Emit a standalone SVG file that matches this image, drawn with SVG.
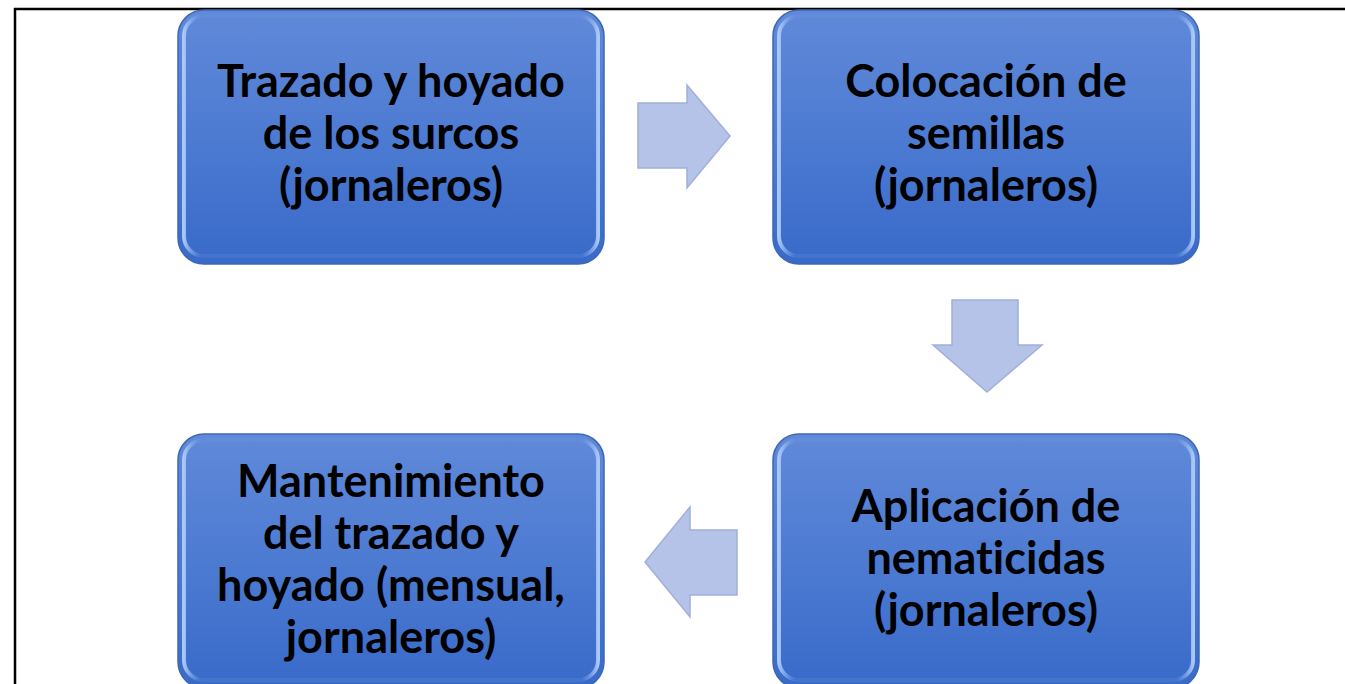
<svg xmlns="http://www.w3.org/2000/svg" width="1345" height="684" viewBox="0 0 1345 684">
<style>
.lbl{font-family:"Lato","Liberation Sans",sans-serif;font-weight:bold;font-size:45px;fill:#000;text-anchor:middle;font-variant-ligatures:none}
.box{fill:url(#bg);stroke:#3f67b4;stroke-width:1.5}
.bev{fill:none;stroke:url(#hl);stroke-width:4}
.arr{fill:#b4c3e7;stroke:#9fb0da;stroke-width:1.5}
</style>
<defs>
<linearGradient id="bg" x1="0" y1="0" x2="0" y2="1">
<stop offset="0" stop-color="#6089d9"/>
<stop offset="0.5" stop-color="#4d7bd2"/>
<stop offset="1" stop-color="#386ac9"/>
</linearGradient>
<linearGradient id="hl" x1="0" y1="0" x2="1" y2="0">
<stop offset="0" stop-color="#a9c8f8"/>
<stop offset="0.04" stop-color="#6f98e2" stop-opacity="0.2"/>
<stop offset="0.96" stop-color="#6f98e2" stop-opacity="0.2"/>
<stop offset="1" stop-color="#a9c8f8"/>
</linearGradient>
</defs>
<rect width="1345" height="684" fill="#fff"/>
<path d="M15,684 V9 H1345" fill="none" stroke="#000" stroke-width="2.5"/>
<g id="connectors">
<polygon class="arr" points="638,103 687,103 687,85 730,136 687,188 687,168 638,168"/>
<polygon class="arr" points="952,300 1018,300 1018,345 1042,345 987,392 933,345 952,345"/>
<polygon class="arr" points="737,530 690,530 690,507 645,562 690,617 690,595 737,595"/>
</g>
<g id="n1">
<rect class="box" x="178" y="10" width="426" height="254" rx="26"/>
<rect class="bev" x="184" y="16" width="414" height="240" rx="20"/>
<text class="lbl" x="391" y="97">Trazado y hoyado</text>
<text class="lbl" x="391" y="149">de los surcos</text>
<text class="lbl" x="391" y="201">(jornaleros)</text>
</g>
<g id="n2">
<rect class="box" x="773" y="10" width="426" height="254" rx="26"/>
<rect class="bev" x="779" y="16" width="414" height="240" rx="20"/>
<text class="lbl" x="986" y="97">Colocación de</text>
<text class="lbl" x="986" y="149">semillas</text>
<text class="lbl" x="986" y="201">(jornaleros)</text>
</g>
<g id="n3">
<rect class="box" x="773" y="434" width="426" height="254" rx="26"/>
<rect class="bev" x="779" y="440" width="414" height="240" rx="20"/>
<text class="lbl" x="986" y="522">Aplicación de</text>
<text class="lbl" x="986" y="574">nematicidas</text>
<text class="lbl" x="986" y="626">(jornaleros)</text>
</g>
<g id="n4">
<rect class="box" x="178" y="434" width="426" height="254" rx="26"/>
<rect class="bev" x="184" y="440" width="414" height="240" rx="20"/>
<text class="lbl" x="391" y="497">Mantenimiento</text>
<text class="lbl" x="391" y="549">del trazado y</text>
<text class="lbl" x="391" y="601">hoyado (mensual,</text>
<text class="lbl" x="391" y="653">jornaleros)</text>
</g>
</svg>
